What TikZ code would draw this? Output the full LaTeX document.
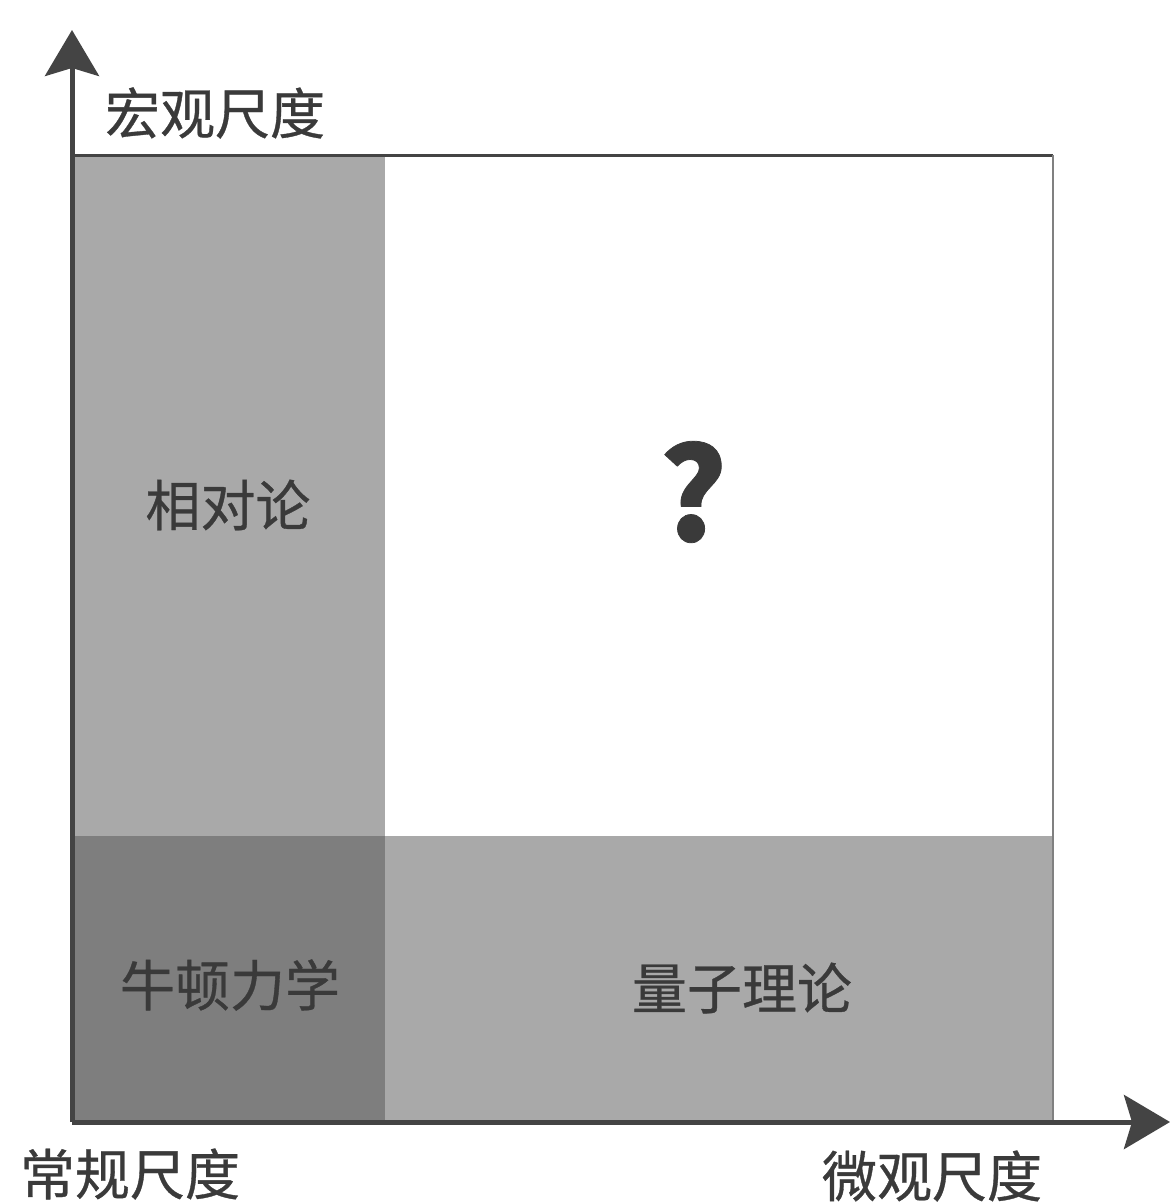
\documentclass[tikz,border=0pt]{standalone}
\usepackage{fontspec}
\setmainfont{Noto Sans CJK SC}[FakeBold=0.6]
\usetikzlibrary{arrows.meta}
\definecolor{lightfill}{HTML}{A9A9A9}
\definecolor{darkfill}{HTML}{7E7E7E}
\definecolor{axiscol}{HTML}{444444}
\definecolor{txtcol}{HTML}{3A3A3A}
\tikzset{
  axisline/.style={draw=axiscol, line width=5pt, -{Stealth[length=46pt,width=54pt,inset=8pt]}},
  lbl/.style={font=\fontsize{55}{55}\selectfont, text=txtcol, inner sep=0pt},
  qmark/.style={font=\fontsize{128}{128}\selectfont\bfseries, text=txtcol, inner sep=0pt},
}
\begin{document}
\begin{tikzpicture}[x=1pt,y=-1pt]
\useasboundingbox[fill=white] (0,0) rectangle (1171,1204);
% regions
\fill[lightfill] (72,155) rectangle (385,836);
\fill[lightfill] (385,836) rectangle (1053,1122);
\fill[darkfill] (72,836) rectangle (385,1122);
% outer box edges
\draw[axiscol, line width=3pt] (72,155) -- (1053,155);
\draw[gray, line width=2.5pt] (1053,155) -- (1053,1122);
% axes
\coordinate (o) at (72,1122);
\coordinate (ytip) at (72,30);
\coordinate (xtip) at (1170,1122);
\draw[axisline] (o) -- (ytip);
\draw[axisline] (o) -- (xtip);
% labels
\node[lbl] (macro) at (215,113) {宏观尺度};
\node[lbl] (normal) at (130,1174) {常规尺度};
\node[lbl] (micro) at (932,1176) {微观尺度};
\node[lbl] (rel) at (228,505) {相对论};
\node[lbl] (newton) at (230,985) {牛顿力学};
\node[lbl] (quant) at (742,988) {量子理论};
\node[qmark] (q) at (693,492) {?};
\end{tikzpicture}
\end{document}
